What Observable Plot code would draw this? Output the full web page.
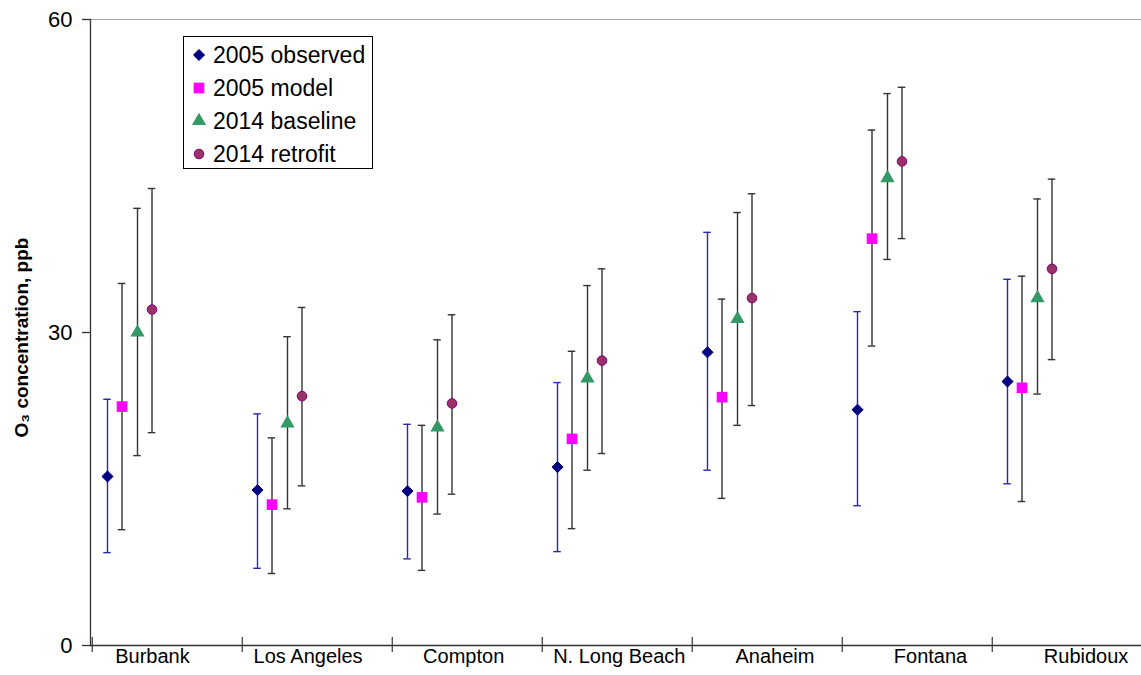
<!DOCTYPE html>
<html>
<head>
<meta charset="utf-8">
<script src="https://cdn.jsdelivr.net/npm/d3@7"></script>
<script src="https://cdn.jsdelivr.net/npm/@observablehq/plot@0.6"></script>
<style>
  html, body { margin: 0; padding: 0; background: #fff; }
  #wrap { position: relative; width: 1141px; height: 675px; overflow: hidden; font-family: 'Liberation Sans', Arial, sans-serif; }
  #legend { position: absolute; left: 183px; top: 36px; width: 190px; height: 133px; box-sizing: border-box;
            border: 1px solid #000; background: #fff; }
  .row { position: absolute; left: 0; height: 33px; display: flex; align-items: center; font-size: 23px; color: #000; white-space: nowrap; }
  .row svg { width: 16px; height: 16px; margin-left: 7px; margin-right: 6px; }
</style>
</head>
<body>
<div id="wrap"><div id="chart"></div><div id="legend"></div></div>
<script>
// ---- data ----
const sites = ["Burbank", "Los Angeles", "Compton", "N. Long Beach", "Anaheim", "Fontana", "Rubidoux"];
const seriesNames = ["2005 observed", "2005 model", "2014 baseline", "2014 retrofit"];
const yTicks = [0, 30, 60];
const yTitle = "O₃ concentration, ppb";

const observed     = [16.2, 14.9, 14.8, 17.1, 28.1, 22.6, 25.3];
const observedLow  = [8.9, 7.4, 8.3, 9.0, 16.8, 13.4, 15.5];
const observedHigh = [23.6, 22.2, 21.2, 25.2, 39.6, 32.0, 35.1];

const model     = [22.9, 13.5, 14.2, 19.8, 23.8, 39.0, 24.7];
const modelLow  = [11.1, 6.9, 7.2, 11.2, 14.1, 28.7, 13.8];
const modelHigh = [34.7, 19.9, 21.1, 28.2, 33.2, 49.4, 35.4];

const baseline     = [30.0, 21.3, 20.9, 25.6, 31.3, 44.8, 33.3];
const baselineLow  = [18.2, 13.1, 12.6, 16.8, 21.1, 37.0, 24.1];
const baselineHigh = [41.9, 29.6, 29.3, 34.5, 41.5, 52.9, 42.8];

const retrofit     = [32.2, 23.9, 23.2, 27.3, 33.3, 46.4, 36.1];
const retrofitLow  = [20.4, 15.3, 14.5, 18.4, 23.0, 39.0, 27.4];
const retrofitHigh = [43.8, 32.4, 31.7, 36.1, 43.3, 53.5, 44.7];

// ---- tables built from the arrays ----
const seriesData = [
  [observed, observedLow, observedHigh],
  [model, modelLow, modelHigh],
  [baseline, baselineLow, baselineHigh],
  [retrofit, retrofitLow, retrofitHigh]
];
const tables = seriesData.map(([v, lo, hi], k) =>
  sites.map((site, i) => ({site, series: seriesNames[k], value: v[i], low: lo[i], high: hi[i]})));

// ---- styles ----
const styles = [
  {symbol: "diamond2", fill: "#000080", stroke: "#000080", r: 5.0, dx: -60,   bar: "#2a2aa6"},
  {symbol: "square",   fill: "#ff00ff", stroke: "none",    r: 6.0, dx: -45.5, bar: "#333333"},
  {symbol: "triangle", fill: "#339966", stroke: "none",    r: 5.3, dx: -30,   bar: "#333333"},
  {symbol: "circle",   fill: "#993366", stroke: "#800080", r: 4.8, dx: -15.5, bar: "#333333"}
];

const W = 1141, H = 675;
const xRange = [90, 1143.5];
const band = (xRange[1] - xRange[0]) / sites.length;
const capHalf = 4;

const marks = [
  Plot.ruleY([60], {stroke: "#a6a6a6", strokeWidth: 1}),
  Plot.ruleY([0], {stroke: "#333", strokeWidth: 1.3}),
  Plot.frame({anchor: "left", stroke: "#333", strokeWidth: 1.3}),
  Plot.ruleX(sites, {x: d => d, dx: -band / 2, y1: 0, y2: 0, insetTop: -8, insetBottom: -7, stroke: "#333", strokeWidth: 1.2}),
  Plot.axisY({ticks: yTicks, tickSize: 8, tickFormat: () => "", label: null, stroke: "#333", strokeWidth: 1.3}),
  Plot.text(yTicks, {y: d => d, frameAnchor: "left", dx: -18, textAnchor: "end", fontSize: 22, fill: "#000"}),
  Plot.text([yTitle], {frameAnchor: "left", textAnchor: "middle", rotate: -90, dx: -69, dy: 5, fontWeight: "bold", fontSize: 19, fill: "#000"}),
  ...sites.map((s, i) => Plot.text([s], {x: d => d, frameAnchor: "bottom", dy: 17.5, dx: -15 + 5.6 * i, fontSize: 20, fill: "#000"}))
];

tables.forEach((rows, k) => {
  const st = styles[k];
  marks.push(
    Plot.ruleX(rows, {x: "site", y1: "low", y2: "high", dx: st.dx, stroke: st.bar, strokeWidth: 1.4}),
    Plot.tickY(rows, {x: "site", y: "high", dx: st.dx, insetLeft: band / 2 - capHalf, insetRight: band / 2 - capHalf, stroke: st.bar, strokeWidth: 1.4}),
    Plot.tickY(rows, {x: "site", y: "low", dx: st.dx, insetLeft: band / 2 - capHalf, insetRight: band / 2 - capHalf, stroke: st.bar, strokeWidth: 1.4})
  );
});
tables.forEach((rows, k) => {
  const st = styles[k];
  marks.push(Plot.dot(rows, {x: "site", y: "value", dx: st.dx, symbol: st.symbol, r: st.r, fill: st.fill, stroke: st.stroke, strokeWidth: 1}));
});

const chart = Plot.plot({
  width: W, height: H,
  marginLeft: 90, marginRight: 0, marginTop: 19, marginBottom: 30,
  style: {fontFamily: "'Liberation Sans', Arial, sans-serif", fontSize: "20px", color: "#000", background: "#fff"},
  x: {type: "band", domain: sites, range: xRange, padding: 0, axis: null},
  y: {domain: [0, 60], axis: null},
  marks
});
document.getElementById("chart").appendChild(chart);

// ---- legend ----
const legend = document.getElementById("legend");
const symMap = {diamond2: d3.symbolDiamond2, square: d3.symbolSquare, triangle: d3.symbolTriangle, circle: d3.symbolCircle};
seriesNames.forEach((name, k) => {
  const st = styles[k];
  const row = document.createElement("div");
  row.className = "row";
  row.style.top = (1.5 + 33 * k) + "px";
  const size = Math.PI * st.r * st.r;
  const path = d3.symbol(symMap[st.symbol], size)();
  row.innerHTML = `<svg viewBox="-8 -8 16 16"><path d="${path}" fill="${st.fill}" stroke="${st.stroke}" stroke-width="1"/></svg><span>${name}</span>`;
  legend.appendChild(row);
});
</script>
</body>
</html>
